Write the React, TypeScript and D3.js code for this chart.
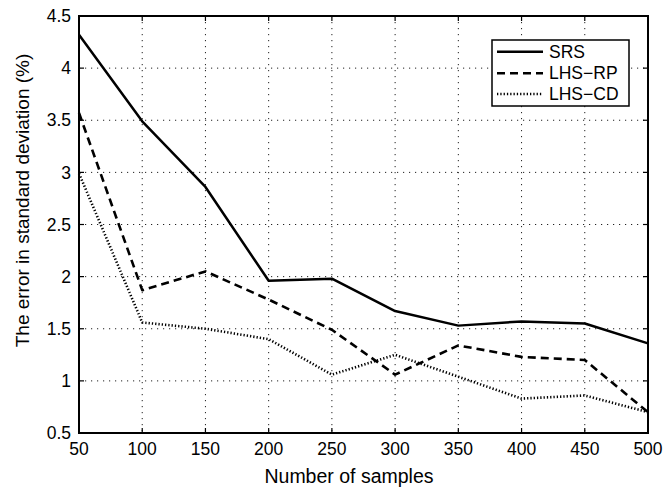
import React from "react";
import * as d3 from "d3";

const samples = [50, 100, 150, 200, 250, 300, 350, 400, 450, 500];
const srs = [4.32, 3.49, 2.86, 1.96, 1.98, 1.67, 1.53, 1.57, 1.55, 1.36];
const lhsRp = [3.57, 1.87, 2.05, 1.78, 1.49, 1.06, 1.34, 1.23, 1.2, 0.7];
const lhsCd = [2.99, 1.56, 1.5, 1.4, 1.06, 1.25, 1.04, 0.83, 0.86, 0.7];
const xTicks = [50, 100, 150, 200, 250, 300, 350, 400, 450, 500];
const yTicks = [0.5, 1, 1.5, 2, 2.5, 3, 3.5, 4, 4.5];
const seriesNames = ["SRS", "LHS\u2212RP", "LHS\u2212CD"];

const W = 667;
const H = 490;
const L = 79, R = 648, T = 16, B = 433;
const FONT = "'Liberation Sans', Arial, Helvetica, sans-serif";

export default function App() {
  const x = d3.scaleLinear().domain([50, 500]).range([L, R]);
  const y = d3.scaleLinear().domain([0.5, 4.5]).range([B, T]);
  const line = d3
    .line<number>()
    .x((_, i) => x(samples[i]))
    .y((d) => y(d));

  const series = [
    { name: seriesNames[0], values: srs, dash: "none", width: 2.5 },
    { name: seriesNames[1], values: lhsRp, dash: "8,5", width: 2.6 },
    { name: seriesNames[2], values: lhsCd, dash: "1.3,2", width: 2.6 },
  ];

  const gridDash = "1.2,4.8";
  const tickLen = 5;

  return (
    <svg
      width={W}
      height={H}
      style={{ position: "absolute", left: 0, top: 0, background: "#fff" }}
      fontFamily={FONT}
    >
      <rect x={0} y={0} width={W} height={H} fill="#fff" />
      {/* grid */}
      {xTicks.slice(1, -1).map((t) => (
        <line
          key={"gx" + t}
          x1={x(t)}
          x2={x(t)}
          y1={T}
          y2={B}
          stroke="#222"
          strokeWidth={1}
          strokeDasharray={gridDash}
        />
      ))}
      {yTicks.slice(1, -1).map((t) => (
        <line
          key={"gy" + t}
          x1={L}
          x2={R}
          y1={y(t)}
          y2={y(t)}
          stroke="#222"
          strokeWidth={1}
          strokeDasharray={gridDash}
        />
      ))}
      {/* series */}
      {series.map((s) => (
        <path
          key={s.name}
          d={line(s.values) || ""}
          fill="none"
          stroke="#000"
          strokeWidth={s.width}
          strokeDasharray={s.dash}
          strokeLinejoin="round"
        />
      ))}
      {/* ticks */}
      {xTicks.map((t) => (
        <g key={"tx" + t}>
          <line x1={x(t)} x2={x(t)} y1={B} y2={B - tickLen} stroke="#000" strokeWidth={1.2} />
          <line x1={x(t)} x2={x(t)} y1={T} y2={T + tickLen} stroke="#000" strokeWidth={1.2} />
          <text x={x(t)} y={455} textAnchor="middle" fontSize={17.5} fill="#000">
            {t}
          </text>
        </g>
      ))}
      {yTicks.map((t) => (
        <g key={"ty" + t}>
          <line x1={L} x2={L + tickLen} y1={y(t)} y2={y(t)} stroke="#000" strokeWidth={1.2} />
          <line x1={R} x2={R - tickLen} y1={y(t)} y2={y(t)} stroke="#000" strokeWidth={1.2} />
          <text x={71} y={y(t) + 6.2} textAnchor="end" fontSize={17.5} fill="#000">
            {t}
          </text>
        </g>
      ))}
      {/* axes box */}
      <rect x={L} y={T} width={R - L} height={B - T} fill="none" stroke="#000" strokeWidth={2} />
      {/* legend */}
      <g>
        <rect x={492} y={40} width={137} height={66} fill="#fff" stroke="#000" strokeWidth={1.5} />
        {series.map((s, i) => {
          const ly = [51.7, 73.3, 94][i];
          return (
            <g key={"lg" + s.name}>
              <line
                x1={497}
                x2={543}
                y1={ly}
                y2={ly}
                stroke="#000"
                strokeWidth={s.width}
                strokeDasharray={s.dash}
              />
              <text x={549} y={ly + 6} fontSize={17.5} fill="#000">
                {s.name}
              </text>
            </g>
          );
        })}
      </g>
      {/* axis titles */}
      <text x={349} y={483} textAnchor="middle" fontSize={19.5} fill="#000">
        Number of samples
      </text>
      <text
        transform={`translate(28.5,200.5) rotate(-90)`}
        textAnchor="middle"
        fontSize={19}
        fill="#000"
      >
        The error in standard deviation (%)
      </text>
    </svg>
  );
}
